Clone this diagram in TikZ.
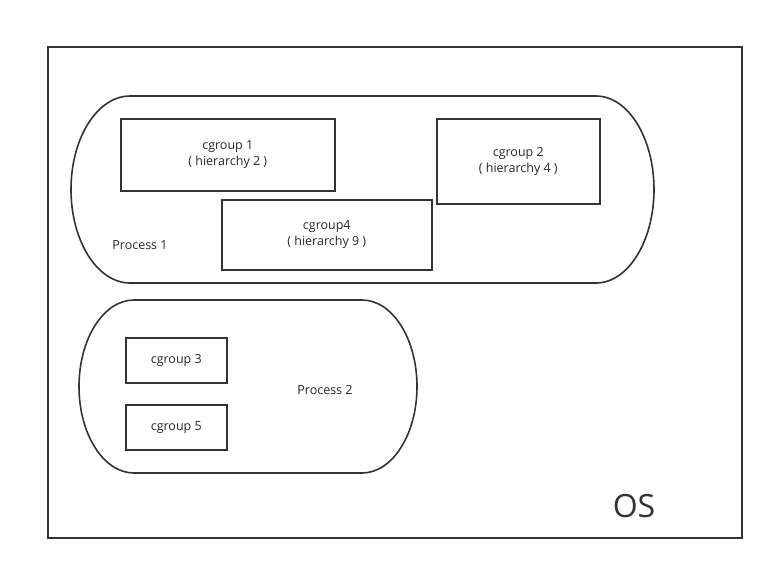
\documentclass[tikz,border=0pt]{standalone}
\usepackage{fontspec}
\setmainfont{Open Sans}
\begin{document}
\begin{tikzpicture}[x=1pt,y=-1pt,
  line/.style={draw=black!80, line width=1.6pt},
  cbox/.style={line, rectangle, inner sep=0pt, anchor=north west, align=center, font=\fontsize{12.5}{16}\selectfont, text=black!85},
  lbl/.style={font=\fontsize{12.5}{16}\selectfont, text=black!85}]
\useasboundingbox (0,0) rectangle (774,571);
% OS frame
\draw[line] (48,47) rectangle (742,538);
\node[text=black!80, font=\fontsize{32}{36}\selectfont] (os) at (634,506) {OS};
% Process 1
\draw[line] (130,96) -- (596,96) arc[start angle=-90, end angle=90, x radius=58, y radius=93.5]
  -- (130,283) arc[start angle=90, end angle=270, x radius=59, y radius=93.5] -- cycle;
\node[lbl] (p1) at (140,245) {Process 1};
% Process 2
\draw[line] (134,300) -- (362,300) arc[start angle=-90, end angle=90, x radius=55, y radius=86.5]
  -- (134,473) arc[start angle=90, end angle=270, x radius=55, y radius=86.5] -- cycle;
\node[lbl] (p2) at (325,390) {Process 2};
% cgroups
\node[cbox, minimum width=214pt, minimum height=72pt] (c1) at (120,118) {cgroup 1\\( hierarchy 2 )};
\node[cbox, minimum width=163pt, minimum height=85pt] (c2) at (436,118) {cgroup 2\\( hierarchy 4 )};
\node[cbox, minimum width=210pt, minimum height=70pt] (c4) at (221,199) {cgroup4\\( hierarchy 9 )};
\node[cbox, minimum width=101pt, minimum height=45pt] (c3) at (125,337) {cgroup 3};
\node[cbox, minimum width=101pt, minimum height=45pt] (c5) at (125,404) {cgroup 5};
\end{tikzpicture}
\end{document}
